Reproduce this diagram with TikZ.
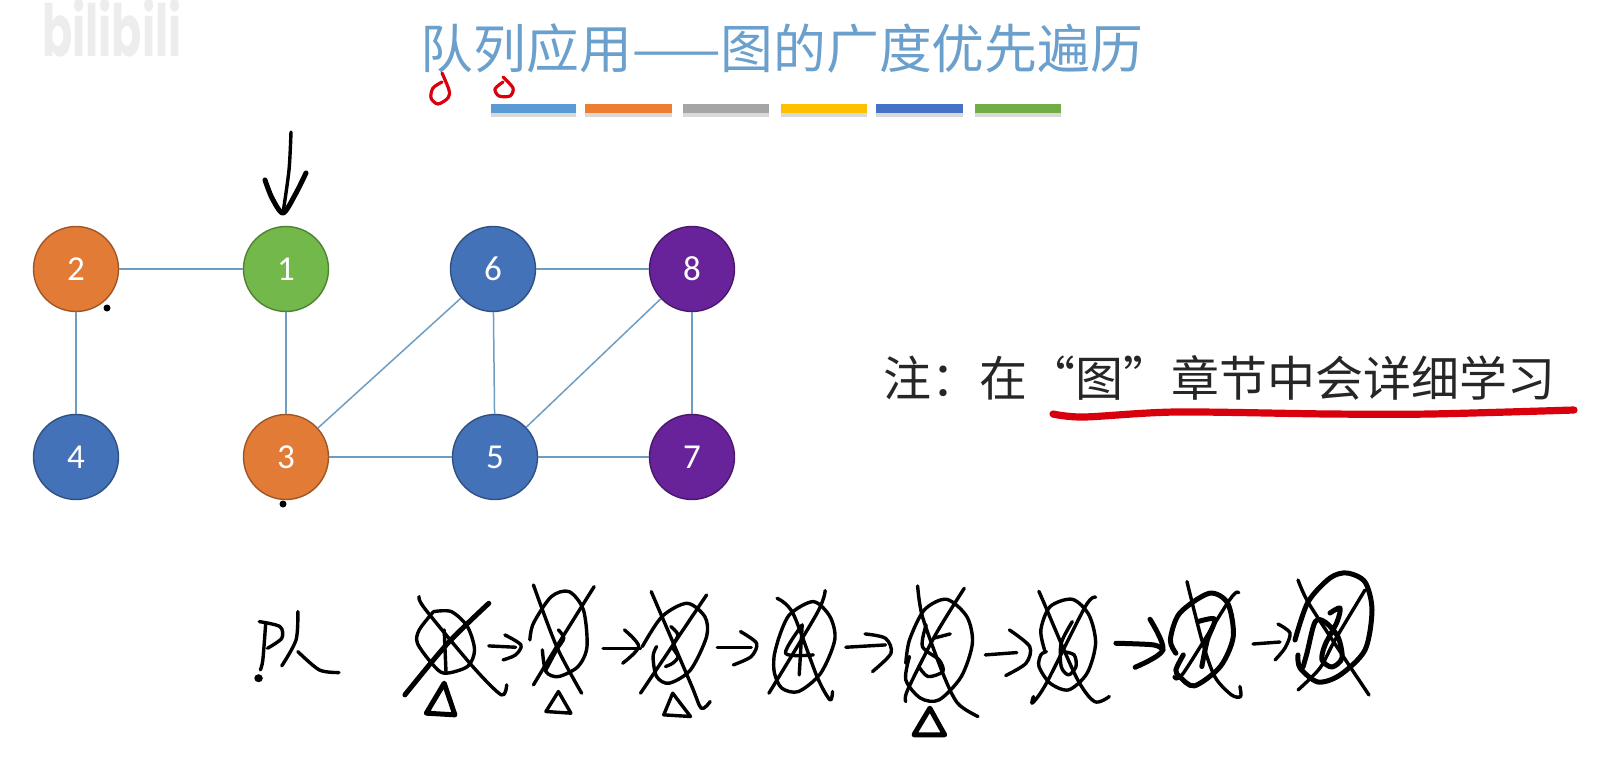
\documentclass[tikz,border=0pt]{standalone}
\usepackage{fontspec}
\usepackage{xcolor}
\setmainfont{Noto Sans CJK SC}
\newfontfamily\numfont{Carlito}
\newfontfamily\markfont{Poppins}
\usepackage{tikz}
\definecolor{titleblue}{HTML}{6BA0CC}
\definecolor{edgeblue}{HTML}{6E9DC4}
\definecolor{nodeorange}{HTML}{E27B36}
\definecolor{nodegreen}{HTML}{72B84A}
\definecolor{nodeblue}{HTML}{4472B8}
\definecolor{nodepurple}{HTML}{68229A}
\definecolor{markred}{HTML}{D8000C}
\tikzset{
  vertex/.style={circle, minimum size=42.5pt, inner sep=0pt, text=white, font=\numfont\fontsize{17.5}{20}\selectfont, draw=#1!70!black, fill=#1, line width=0.7pt},
  edge/.style={draw=edgeblue, line width=0.75pt},
  ink/.style={draw=black, line width=1.7pt, line cap=round, line join=round},
  inkfat/.style={ink, line width=2.5pt},
  redpen/.style={draw=markred, line width=1.6pt, line cap=round, line join=round}
}
\newcommand{\inkline}[2][ink]{\draw[#1] plot[smooth] coordinates {#2};}
\begin{document}
\begin{tikzpicture}[x=0.5pt,y=-0.5pt]
  \useasboundingbox (0,0) rectangle (1603,771);
  \node[text=black!7, font=\markfont\bfseries\fontsize{36}{40}\selectfont, xscale=0.62, transform shape] (logo) at (112,28) {bilibili};
  \node[text=titleblue, font=\fontsize{26.4}{30}\selectfont] (title) at (782,48) {队列应用——图的广度优先遍历};
  \node[text=black!85, font=\fontsize{24}{28}\selectfont] (note) at (1219,378) {注：在“图”章节中会详细学习};

  \foreach \xa/\xb/\barcolor in {491/576/5B9BD5, 585/672/ED7D31, 683/769/A5A5A5, 781/867/FFC000, 876/963/4472C4, 975/1061/70AD47} {
    \definecolor{barfill}{HTML}{\barcolor}
    \fill[black!15] (\xa,107) rectangle (\xb,117);
    \fill[barfill] (\xa,104) rectangle (\xb,113);
  }

  \node[vertex=nodeorange] (v2) at (76,269) {2};
  \node[vertex=nodegreen] (v1) at (286,269) {1};
  \node[vertex=nodeblue] (v6) at (493,269) {6};
  \node[vertex=nodepurple] (v8) at (692,269) {8};
  \node[vertex=nodeblue] (v4) at (76,457) {4};
  \node[vertex=nodeorange] (v3) at (286,457) {3};
  \node[vertex=nodeblue] (v5) at (495,457) {5};
  \node[vertex=nodepurple] (v7) at (692,457) {7};
  \draw[edge] (v2) -- (v1);
  \draw[edge] (v2) -- (v4);
  \draw[edge] (v1) -- (v3);
  \draw[edge] (v3) -- (v6);
  \draw[edge] (v3) -- (v5);
  \draw[edge] (v6) -- (v5);
  \draw[edge] (v6) -- (v8);
  \draw[edge] (v8) -- (v5);
  \draw[edge] (v8) -- (v7);
  \draw[edge] (v5) -- (v7);

  \inkline{(291,132) (289,170) (283,213)}
  \inkline[inkfat]{(265,180) (272,198) (283,213) (295,195) (306,173)}
  \fill (107,308) circle (3.5);
  \fill (283,504) circle (3.5);

  \inkline[redpen]{(442,73) (449,90) (448,98) (438,104) (431,98) (433,88) (442,82)}
  \inkline[redpen]{(503,77) (513,88) (510,96) (499,96) (495,89) (503,82)}
  \inkline[redpen,line width=3.6pt]{(1053,414) (1084,417) (1176,412) (1329,414) (1431,414) (1574,410)}

  \begin{scope}[shift={(230,560)},xscale=0.357,yscale=0.333]
    \inkline{(82,185) (140,200) (145,235) (105,265)}
    \inkline{(100,190) (92,300) (85,330)}
    \fill (80,355) circle (12);
    \inkline{(190,155) (185,240) (145,318)}
    \inkline{(190,275) (250,330) (305,338)}
    \inkline{(570,155) (620,155) (665,200) (685,270) (665,320) (600,340) (565,310) (525,250) (530,210) (570,155)}
    \inkline[inkfat]{(725,130) (610,250) (490,405)}
    \inkline{(530,110) (545,145) (680,320) (760,405) (775,375)}
    \inkline{(600,210) (605,335)}
    \draw[inkfat] (600,370) -- (550,460) -- (630,465) -- cycle;
    \inkline{(725,258) (800,262)}
    \inkline{(770,225) (815,255) (800,285) (765,300)}
    \inkline{(840,240) (850,190) (900,110) (950,95) (990,150) (1000,260) (975,320) (920,350) (885,335) (875,270)}
    \inkline{(850,75) (915,260) (985,400)}
    \inkline{(1020,80) (915,260) (850,375)}
    \inkline{(920,210) (935,235) (915,270) (885,330)}
    \draw[ink] (920,395) -- (885,455) -- (955,460) -- cycle;
    \inkline{(1045,265) (1150,265)}
    \inkline{(1105,210) (1145,260) (1100,310)}
    \inkline{(1155,260) (1210,170) (1280,130) (1330,170) (1335,230) (1290,330) (1230,370) (1195,350) (1185,290) (1195,260)}
    \inkline{(1180,95) (1290,370) (1320,445) (1345,425)}
    \inkline{(1335,105) (1150,400)}
    \inkline{(1235,200) (1255,225) (1240,260) (1255,290) (1240,310) (1220,320)}
    \draw[ink] (1240,400) -- (1215,465) -- (1290,470) -- cycle;
    \inkline{(1365,262) (1460,262)}
    \inkline{(1430,215) (1475,250) (1460,290) (1410,315)}
  \end{scope}

  \begin{scope}[shift={(780,560)},xscale=0.37,yscale=0.333]
    \inkline{(-5,240) (25,165) (90,125) (135,170) (148,240) (110,340) (50,395) (5,385) (-15,340) (-16,290) (-5,240)}
    \inkline{(-8,115) (35,160) (100,350) (135,420) (142,395)}
    \inkline{(122,92) (100,160) (-30,400)}
    \inkline{(60,195) (15,280) (90,285)}
    \inkline{(60,195) (52,345)}
    \inkline{(178,262) (285,255)}
    \inkline{(230,222) (285,235) (300,280) (250,335)}
    \inkline{(340,310) (350,240) (390,150) (450,118) (505,170) (520,250) (490,350) (430,420) (380,415) (340,360) (350,290)}
    \inkline{(372,78) (385,170) (440,340) (480,430) (535,470)}
    \inkline{(498,85) (420,225) (345,390) (340,425)}
    \inkline{(395,195) (385,260) (430,300) (440,335) (400,350) (375,320)}
    \inkline{(415,235) (460,222)}
    \draw[inkfat] (405,445) -- (362,525) -- (445,525) -- cycle;
    \inkline{(555,285) (640,278)}
    \inkline{(620,210) (675,260) (665,310) (610,347)}
    \inkline{(715,270) (705,210) (730,140) (790,118) (835,165) (853,250) (830,340) (780,390) (730,370) (700,320) (705,285) (720,275)}
    \inkline{(700,95) (710,120) (800,350) (850,425) (890,410)}
    \inkline{(853,112) (825,140) (720,370) (682,430) (685,410)}
    \inkline{(790,185) (760,250) (760,320) (780,345) (800,320) (795,285) (765,275)}
    \inkline[inkfat]{(908,250) (1010,255) (1035,270)}
    \inkline[inkfat]{(1000,178) (1035,270) (960,322)}
    \inkline[inkfat]{(1070,280) (1055,240) (1080,160) (1160,100) (1210,130) (1225,230) (1190,320) (1120,378) (1080,350) (1070,330) (1090,285)}
    \inkline{(1100,65) (1140,240) (1175,350) (1220,405) (1245,410) (1243,380)}
    \inkline{(1240,98) (1215,120) (1090,340) (1065,350)}
    \inkline[inkfat]{(1130,185) (1175,178) (1155,240) (1140,320)}
  \end{scope}

  \inkline{(1253,644) (1280,642)}
  \inkline{(1278,624) (1290,633) (1285,648) (1275,660)}
  \inkline[inkfat]{(1295,640) (1308,602) (1330,578) (1347,573) (1365,582) (1372,610) (1365,650) (1340,675) (1318,682) (1300,668) (1298,655)}
  \inkline{(1298,580) (1308,602) (1337,647) (1369,695)}
  \inkline{(1365,590) (1335,640) (1320,668) (1298,690)}
  \inkline[inkfat]{(1330,613) (1340,608) (1337,622) (1325,645) (1322,660) (1332,667) (1342,658) (1338,637) (1325,622) (1315,622) (1307,653) (1303,667)}
\end{tikzpicture}
\end{document}
